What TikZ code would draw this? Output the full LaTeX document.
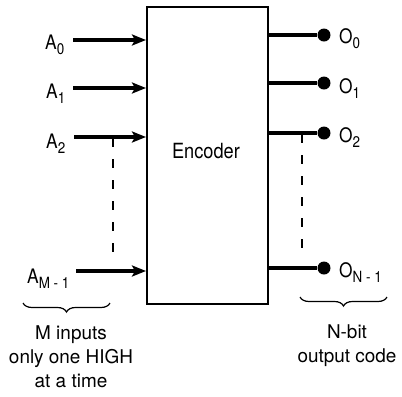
\documentclass[tikz,border=0pt]{standalone}
\usepackage{fontspec}
\setmainfont{TeX Gyre Heros}
\newfontfamily\condfont[FakeStretch=0.87]{TeX Gyre Heros}
\usetikzlibrary{arrows.meta,decorations.pathreplacing}
\newcommand\lbl[2]{{\fontsize{20}{20}\selectfont\condfont #1}\raisebox{-5bp}{\fontsize{15.5}{15.5}\selectfont\condfont #2}}
\begin{document}
\begin{tikzpicture}[x=1bp,y=-1bp,
  inarrow/.style={line width=3.2bp,-{Stealth[length=14bp,width=11bp,inset=3bp]}},
  outline/.style={line width=3.2bp},
  dot/.style={circle,fill,inner sep=0,minimum size=13bp},
  lab/.style={inner sep=0,anchor=base west},
  note/.style={inner sep=0,anchor=base,font=\fontsize{19}{24}\selectfont},
  vdash/.style={line width=1.2bp,dash pattern=on 9bp off 12bp},
  brc/.style={line width=1.2bp,decorate,decoration={brace,amplitude=9bp,mirror}}]
\useasboundingbox (0,0) rectangle (402,397);
% encoder block
\node[draw,line width=2bp,minimum width=121bp,minimum height=297bp,inner sep=0] (enc) at (207.5,155.5) {};
\node[inner sep=0,anchor=base] (enctext) at (206,158) {\fontsize{21}{21}\selectfont\condfont Encoder};
% inputs
\node[lab] (a0) at (45,49) {\lbl{A}{0}};
\node[lab] (a1) at (46,98) {\lbl{A}{1}};
\node[lab] (a2) at (46,148) {\lbl{A}{2}};
\node[lab] (am) at (27,283) {\lbl{A}{M - 1}};
\coordinate (s0) at (73,40);
\coordinate (s1) at (73,88);
\coordinate (s2) at (74,137);
\coordinate (sm) at (76,271);
\draw[inarrow] (s0) -- (s0 -| enc.west);
\draw[inarrow] (s1) -- (s1 -| enc.west);
\draw[inarrow] (s2) -- (s2 -| enc.west);
\draw[inarrow] (sm) -- (sm -| enc.west);
\coordinate (ld1) at (113,138);
\coordinate (ld2) at (113,262);
\draw[vdash] (ld1) -- (ld2);
% outputs
\node[dot] (d0) at (324,35) {};
\node[dot] (d1) at (324,83) {};
\node[dot] (d2) at (324,133) {};
\node[dot] (dn) at (324,268) {};
\draw[outline] (enc.east |- d0) -- (d0);
\draw[outline] (enc.east |- d1) -- (d1);
\draw[outline] (enc.east |- d2) -- (d2);
\draw[outline] (enc.east |- dn) -- (dn);
\node[lab] (o0) at (339,43) {\lbl{O}{0}};
\node[lab] (o1) at (339,93) {\lbl{O}{1}};
\node[lab] (o2) at (339,142) {\lbl{O}{2}};
\node[lab] (on) at (339,277) {\lbl{O}{N - 1}};
\coordinate (rd1) at (302,134);
\coordinate (rd2) at (302,257);
\draw[vdash] (rd1) -- (rd2);
% braces and notes
\coordinate (lb1) at (23,303);
\coordinate (lb2) at (110,303);
\draw[brc] (lb1) -- (lb2);
\node[note] (m1) at (71,339) {M inputs};
\node[note] (m2) at (71,363) {only one HIGH};
\node[note] (m3) at (71,387) {at a time};
\coordinate (rb1) at (300,297);
\coordinate (rb2) at (387,297);
\draw[brc] (rb1) -- (rb2);
\node[note] (n1) at (347,338) {N-bit};
\node[note] (n2) at (347,362) {output code};
\end{tikzpicture}
\end{document}
